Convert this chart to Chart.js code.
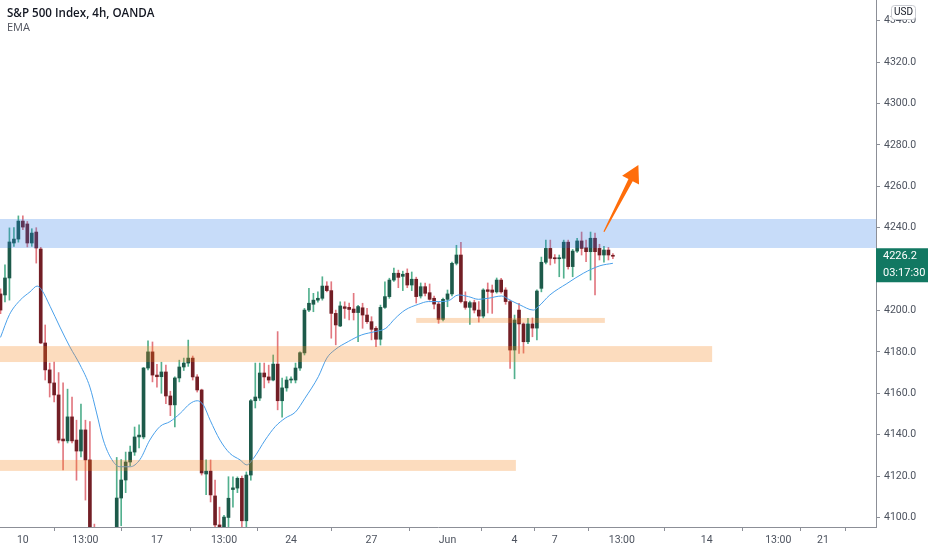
<!DOCTYPE html>
<html>
<head>
<meta charset="utf-8">
<script src="https://cdn.jsdelivr.net/npm/chart.js@4.4.1/dist/chart.umd.min.js"></script>
<style>
  html, body { margin: 0; padding: 0; background: #fff; overflow: hidden; }
  #wrap { position: relative; width: 932px; height: 550px; }
  #title { position: absolute; left: 7px; top: 5px; font: 600 11.6px 'Open Sans', sans-serif; line-height: 15px; color: #131722; }
  #ema { position: absolute; left: 7px; top: 20px; font: 11px 'Open Sans', sans-serif; line-height: 14px; color: #50535e; }
</style>
</head>
<body>
<div id="wrap">
  <canvas id="chart" width="932" height="550"></canvas>
  <div id="title">S&amp;P 500 Index, 4h, OANDA</div>
  <div id="ema">EMA</div>
</div>
<script>
// 4h candles (bars 22-25 sit below the visible range)
const opens = [4208.0, 4207.5, 4215.7, 4232.6, 4234.5, 4243.2, 4241.8, 4232.6, 4237.9, 4229.7,
  4184.3, 4171.3, 4165.0, 4159.2, 4137.9, 4137.0, 4148.6, 4137.4, 4132.1, 4142.3,
  4127.8, 4090.0, 4084.0, 4076.0, 4083.0, 4079.0, 4086.0, 4109.4, 4118.1, 4126.8,
  4131.6, 4138.9, 4138.9, 4172.2, 4180.0, 4168.8, 4168.0, 4170.3, 4158.7, 4154.4,
  4167.4, 4172.7, 4174.6, 4177.0, 4167.9, 4161.6, 4121.0, 4122.4, 4110.4, 4096.4,
  4094.0, 4100.0, 4113.5, 4114.2, 4118.9, 4098.4, 4120.5, 4156.4, 4157.7, 4169.8,
  4167.9, 4166.4, 4174.1, 4156.4, 4162.6, 4166.4, 4166.4, 4172.2, 4179.5, 4200.2,
  4203.0, 4205.0, 4205.9, 4211.8, 4209.6, 4198.6, 4192.5, 4201.8, 4201.5, 4200.7,
  4199.0, 4201.3, 4197.8, 4194.6, 4191.4, 4186.1, 4201.5, 4206.7, 4214.7, 4218.0,
  4216.5, 4218.0, 4212.3, 4215.1, 4207.0, 4211.5, 4208.6, 4205.9, 4203.1, 4195.7,
  4205.4, 4208.0, 4222.8, 4226.8, 4204.3, 4201.5, 4203.8, 4200.2, 4197.3, 4210.0,
  4209.9, 4209.0, 4214.7, 4209.9, 4204.3, 4180.9, 4200.2, 4193.5, 4184.9, 4193.5,
  4191.5, 4210.7, 4223.3, 4230.0, 4225.5, 4225.0, 4225.2, 4233.0, 4221.2, 4228.7,
  4233.6, 4230.3, 4228.4, 4234.9, 4230.0, 4226.8, 4229.2, 4226.6];
const highs = [4210.5, 4222.0, 4239.9, 4240.0, 4245.7, 4245.7, 4243.0, 4239.5, 4240.0, 4230.5,
  4193.0, 4174.6, 4175.1, 4170.0, 4165.0, 4162.0, 4158.2, 4147.0, 4154.8, 4147.0,
  4146.3, 4096.8, 4092.0, 4088.0, 4093.0, 4090.0, 4129.0, 4128.0, 4131.6, 4134.5,
  4143.7, 4144.7, 4172.5, 4185.3, 4184.8, 4174.0, 4175.0, 4173.6, 4161.0, 4168.0,
  4176.0, 4177.0, 4185.7, 4178.0, 4169.0, 4162.0, 4127.8, 4127.8, 4118.1, 4105.0,
  4101.0, 4119.7, 4119.6, 4119.6, 4120.0, 4122.0, 4157.0, 4174.6, 4174.6, 4174.6,
  4173.6, 4178.5, 4189.8, 4167.4, 4168.0, 4168.0, 4174.6, 4180.0, 4201.0, 4210.7,
  4208.3, 4209.0, 4216.3, 4213.9, 4213.9, 4200.2, 4204.2, 4204.2, 4203.6, 4208.3,
  4202.5, 4203.5, 4201.0, 4197.0, 4192.2, 4202.6, 4213.9, 4215.6, 4220.5, 4219.5,
  4219.0, 4220.1, 4218.6, 4216.1, 4213.3, 4213.3, 4212.8, 4207.0, 4204.0, 4206.0,
  4209.9, 4223.4, 4231.5, 4232.9, 4209.0, 4204.5, 4205.0, 4204.3, 4210.5, 4213.3,
  4212.3, 4215.7, 4215.5, 4211.0, 4205.0, 4197.8, 4203.5, 4194.0, 4196.2, 4196.4,
  4210.0, 4225.8, 4234.0, 4234.0, 4227.0, 4226.8, 4234.0, 4234.0, 4229.5, 4234.9,
  4237.9, 4234.0, 4237.9, 4237.4, 4232.0, 4231.0, 4230.5, 4227.5];
const lows = [4198.5, 4204.1, 4205.0, 4231.0, 4233.0, 4239.0, 4230.7, 4231.0, 4222.9, 4184.0,
  4166.4, 4158.2, 4155.8, 4136.0, 4123.0, 4136.0, 4136.0, 4118.0, 4129.2, 4108.4,
  4085.0, 4078.0, 4070.0, 4068.0, 4074.0, 4072.0, 4082.0, 4096.0, 4112.0, 4125.0,
  4130.0, 4133.6, 4138.0, 4171.3, 4165.5, 4163.0, 4160.0, 4155.0, 4149.2, 4143.7,
  4165.5, 4171.0, 4173.0, 4166.4, 4160.6, 4120.5, 4111.0, 4107.5, 4095.0, 4085.0,
  4090.0, 4095.0, 4105.0, 4112.0, 4095.5, 4095.0, 4118.0, 4152.9, 4156.5, 4162.6,
  4165.0, 4166.0, 4152.0, 4148.5, 4161.0, 4165.0, 4165.0, 4171.0, 4178.5, 4199.4,
  4199.4, 4204.0, 4205.0, 4209.0, 4186.6, 4183.4, 4192.2, 4196.2, 4195.4, 4195.4,
  4184.9, 4191.4, 4193.8, 4185.8, 4182.5, 4183.3, 4201.0, 4205.9, 4214.0, 4211.0,
  4209.6, 4211.0, 4209.6, 4203.6, 4206.0, 4207.0, 4205.0, 4200.7, 4193.8, 4195.0,
  4201.8, 4207.0, 4222.0, 4203.6, 4200.6, 4193.3, 4198.8, 4194.4, 4196.4, 4198.8,
  4198.6, 4208.4, 4208.4, 4203.0, 4172.0, 4167.0, 4179.3, 4179.4, 4184.0, 4187.3,
  4185.8, 4209.0, 4222.5, 4222.0, 4222.8, 4216.3, 4215.6, 4220.0, 4216.3, 4228.0,
  4226.8, 4223.6, 4214.7, 4207.5, 4224.4, 4223.4, 4224.4, 4225.0];
const closes = [4200.2, 4215.7, 4233.1, 4234.5, 4243.2, 4240.3, 4232.6, 4237.4, 4230.2, 4184.3,
  4171.3, 4165.0, 4159.2, 4137.4, 4137.0, 4148.6, 4137.0, 4132.1, 4142.3, 4127.8,
  4090.0, 4084.0, 4076.0, 4083.0, 4079.0, 4086.0, 4109.4, 4118.1, 4126.8, 4131.6,
  4138.9, 4139.8, 4172.2, 4180.0, 4168.8, 4168.0, 4170.3, 4158.7, 4154.4, 4167.4,
  4172.7, 4174.6, 4177.0, 4167.9, 4161.6, 4121.5, 4122.4, 4110.9, 4096.4, 4090.0,
  4100.2, 4109.3, 4114.3, 4118.9, 4098.4, 4120.5, 4156.4, 4158.2, 4169.8, 4167.9,
  4166.4, 4174.1, 4156.4, 4162.6, 4166.4, 4166.9, 4172.2, 4179.6, 4200.2, 4203.5,
  4205.0, 4205.9, 4211.8, 4209.6, 4198.6, 4193.0, 4202.2, 4201.0, 4200.5, 4199.0,
  4201.9, 4197.8, 4194.6, 4190.9, 4186.1, 4201.5, 4206.7, 4214.7, 4218.0, 4216.0,
  4217.5, 4212.3, 4215.1, 4206.7, 4211.5, 4208.3, 4205.4, 4203.1, 4195.7, 4205.4,
  4208.0, 4222.8, 4226.8, 4204.3, 4201.5, 4203.8, 4200.2, 4197.3, 4209.9, 4209.2,
  4208.8, 4214.7, 4209.0, 4204.3, 4180.9, 4195.4, 4193.5, 4184.9, 4193.5, 4191.5,
  4209.4, 4223.3, 4230.0, 4225.2, 4225.0, 4225.5, 4233.0, 4221.2, 4228.7, 4233.6,
  4230.0, 4228.4, 4234.9, 4228.4, 4226.8, 4229.2, 4226.8, 4226.2];

// EMA line, sampled along the blue curve (bar position, value)
const emaBars = [0, 2, 4.4, 6.6, 8.2, 9.2, 11.1, 13.3, 15.5, 17.8, 20, 21.5, 23, 24.9, 26.7, 29,
  31.2, 33.4, 35.7, 37.9, 40.2, 42.4, 44, 45.4, 46.9, 49.1, 51.3, 53.6, 55.1, 56.6, 59.2,
  61.5, 63.7, 66, 68.1, 71.1, 73, 74.8, 77.8, 80.8, 83.8, 86.2, 88.3, 90.5, 93.5, 95.7,
  97.9, 100.2, 102.4, 104.7, 106.9, 109.1, 112.1, 114, 116.2, 119.2, 120.3, 122.9, 126.7,
  130.4, 134.1, 137];
const emaValues = [4187, 4198, 4205, 4209, 4211.8, 4210, 4202, 4192, 4182.5, 4173.7, 4163, 4150.5,
  4137.4, 4128, 4124.5, 4124.5, 4128, 4137.4, 4144, 4146.3, 4150.3, 4155, 4156.4, 4154.3,
  4147, 4137.4, 4131, 4127.8, 4125.4, 4128.6, 4137.4, 4144, 4148, 4151, 4157.6, 4168, 4177,
  4181, 4185, 4188.2, 4189.8, 4191.4, 4196.2, 4200.2, 4203, 4204.3, 4204.3, 4204.7, 4207.5,
  4206.7, 4205.4, 4205.9, 4207, 4205, 4202.7, 4200.2, 4201.8, 4207.5, 4213, 4218, 4221.6,
  4222.8];

// axis ticks
const xTickBars = [5, 19, 35, 50, 65, 83, 100, 115, 124, 139, 158, 174, 184];
const xTickLabels = ["10", "13:00", "17", "13:00", "24", "27", "Jun", "4", "7", "13:00", "14", "13:00", "21"];
const yTicks = [4100, 4120, 4140, 4160, 4180, 4200, 4220, 4240, 4260, 4280, 4300, 4320, 4340];

// drawn zones: bar range and price range
const zoneStart = [-1, -1, 93, -1];
const zoneEnd = [200, 159.2, 135.2, 115.3];
const zoneLow = [4230.2, 4175.1, 4194.0, 4122.5];
const zoneHigh = [4244.2, 4182.8, 4196.4, 4127.8];

// arrow from (bar, price) to (bar, price)
const arrowFrom = [135.0, 4238.0];
const arrowTo = [142.7, 4270.3];

const countdown = "03:17:30";

const UP_BODY = "#1d5a4a", DOWN_BODY = "#721e25";
const UP_WICK = "#52b08e", DOWN_WICK = "#e27880";
const ZONE_COLORS = ["rgba(40,120,230,0.26)", "rgba(245,130,20,0.28)", "rgba(245,130,20,0.28)", "rgba(245,130,20,0.28)"];
const AXIS_COLOR = "#8c8f97";
const TEXT_COLOR = "#4c525e";
const FONT = "Roboto, sans-serif";

const idx = opens.map((o, i) => i);
const isUp = (i) => closes[i] >= opens[i];

const overlay = {
  id: "overlay",
  afterDatasetsDraw(chart) {
    const { ctx, chartArea: a } = chart;
    const xs = chart.scales.x, ys = chart.scales.y;
    ctx.save();
    ctx.beginPath();
    ctx.rect(a.left, a.top, a.right - a.left, a.bottom - a.top);
    ctx.clip();
    for (let k = 0; k < zoneStart.length; k++) {
      const x1 = xs.getPixelForValue(zoneStart[k]);
      const x2 = xs.getPixelForValue(zoneEnd[k]);
      const y1 = ys.getPixelForValue(zoneHigh[k]);
      const y2 = ys.getPixelForValue(zoneLow[k]);
      ctx.fillStyle = ZONE_COLORS[k];
      ctx.fillRect(x1, y1, x2 - x1, y2 - y1);
    }
    // arrow
    const tx = xs.getPixelForValue(arrowFrom[0]), ty = ys.getPixelForValue(arrowFrom[1]);
    const px = xs.getPixelForValue(arrowTo[0]), py = ys.getPixelForValue(arrowTo[1]);
    const len = Math.hypot(px - tx, py - ty);
    const ux = (px - tx) / len, uy = (py - ty) / len;
    const nx = -uy, ny = ux;
    const headLen = 17, headW = 9.5, shaftW = 2.4, tailW = 0.6;
    const bx = px - ux * headLen, by = py - uy * headLen;
    ctx.fillStyle = "#ff6d0a";
    ctx.beginPath();
    ctx.moveTo(tx + nx * tailW, ty + ny * tailW);
    ctx.lineTo(bx + nx * shaftW, by + ny * shaftW);
    ctx.lineTo(bx + nx * headW, by + ny * headW);
    ctx.lineTo(px, py);
    ctx.lineTo(bx - nx * headW, by - ny * headW);
    ctx.lineTo(bx - nx * shaftW, by - ny * shaftW);
    ctx.lineTo(tx - nx * tailW, ty - ny * tailW);
    ctx.closePath();
    ctx.fill();
    ctx.restore();
  },
  afterDraw(chart) {
    const { ctx, chartArea: a } = chart;
    const ys = chart.scales.y;
    const last = closes[closes.length - 1];
    const yc = ys.getPixelForValue(last);
    ctx.save();
    // last price tag
    ctx.fillStyle = "#127862";
    ctx.fillRect(a.right, yc - 8, 52, 34);
    ctx.fillStyle = "#ffffff";
    ctx.font = "11px " + FONT;
    ctx.textBaseline = "middle";
    ctx.textAlign = "left";
    ctx.fillText(last.toFixed(1), a.right + 7, yc);
    ctx.fillText(countdown, a.right + 7, yc + 17);
    // currency box
    ctx.fillStyle = "#ffffff";
    ctx.strokeStyle = "#c9cbd1";
    ctx.lineWidth = 1;
    ctx.beginPath();
    ctx.roundRect(891.5, 5.5, 24, 14, 3);
    ctx.fill();
    ctx.stroke();
    ctx.fillStyle = "#131722";
    ctx.font = "10px " + FONT;
    ctx.textAlign = "center";
    ctx.fillText("USD", 903.5, 12.8);
    ctx.restore();
  }
};

new Chart(document.getElementById("chart"), {
  data: {
    datasets: [
      {
        type: "bar",
        label: "wick",
        data: idx.map(i => ({ x: i, y: [lows[i], highs[i]] })),
        backgroundColor: idx.map(i => isUp(i) ? UP_WICK : DOWN_WICK),
        barThickness: 1,
        grouped: false,
        order: 3
      },
      {
        type: "bar",
        label: "body",
        data: idx.map(i => ({ x: i, y: [opens[i], closes[i]] })),
        backgroundColor: idx.map(i => isUp(i) ? UP_BODY : DOWN_BODY),
        barThickness: 3,
        minBarLength: 1,
        grouped: false,
        order: 2
      },
      {
        type: "line",
        label: "EMA",
        data: emaBars.map((b, k) => ({ x: b, y: emaValues[k] })),
        borderColor: "#4aa0ea",
        borderWidth: 1,
        pointRadius: 0,
        cubicInterpolationMode: "monotone",
        order: 1
      }
    ]
  },
  options: {
    responsive: false,
    animation: false,
    devicePixelRatio: 1,
    layout: { padding: 0 },
    plugins: {
      legend: { display: false },
      tooltip: { enabled: false }
    },
    scales: {
      x: {
        type: "linear",
        min: -0.112,
        max: 195.86,
        offset: false,
        afterBuildTicks: (s) => { s.ticks = xTickBars.map(v => ({ value: v })); },
        afterFit: (s) => { s.height = 23; s.paddingLeft = 0; s.paddingRight = 0; },
        ticks: {
          autoSkip: false,
          maxRotation: 0,
          padding: 3,
          color: TEXT_COLOR,
          font: { family: FONT, size: 10.5 },
          callback: (v, i) => xTickLabels[i]
        },
        grid: { drawOnChartArea: false, drawTicks: true, tickLength: 4, color: AXIS_COLOR },
        border: { display: true, color: AXIS_COLOR }
      },
      y: {
        type: "linear",
        position: "right",
        min: 4095.4,
        max: 4350,
        afterBuildTicks: (s) => { s.ticks = yTicks.map(v => ({ value: v })); },
        afterFit: (s) => { s.width = 56; s.paddingTop = 0; s.paddingBottom = 0; },
        ticks: {
          padding: 4,
          color: TEXT_COLOR,
          font: { family: FONT, size: 10.5 },
          callback: (v) => v.toFixed(1)
        },
        grid: { drawOnChartArea: false, drawTicks: true, tickLength: 4, color: AXIS_COLOR },
        border: { display: true, color: AXIS_COLOR }
      }
    }
  },
  plugins: [overlay]
});
</script>
</body>
</html>
